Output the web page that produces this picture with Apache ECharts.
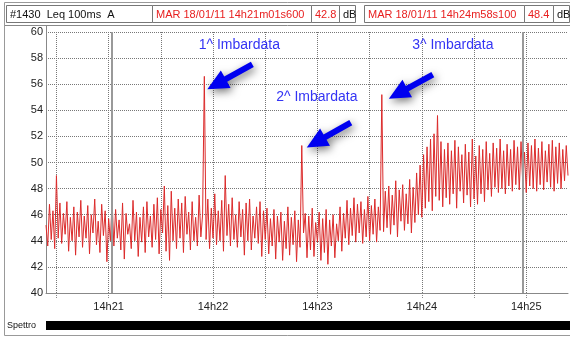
<!DOCTYPE html>
<html>
<head>
<meta charset="utf-8">
<script src="https://cdn.jsdelivr.net/npm/echarts@6/dist/echarts.min.js"></script>
<style>
html,body{margin:0;padding:0;background:#fff}
#chart{width:570px;height:337px}
</style>
</head>
<body>
<div id="chart"></div>
<script>
// first sample = 14h20m24s, one value per second
var startSec = 24;
var tickLabels = ['14h21', '14h22', '14h23', '14h24', '14h25'];
// Leq 100ms (dB)
var leq = [
  45.2, 43.6, 46.8, 44.1, 46.3, 43.4, 49.0, 44.2, 46.9, 43.8,
  46.1, 44.5, 47.0, 43.2, 45.8, 44.0, 46.6, 42.9, 46.2, 44.3,
  47.1, 43.5, 45.9, 44.2, 46.7, 43.0, 46.0, 44.6, 47.2, 43.7,
  45.5, 43.1, 46.8, 44.4, 46.3, 42.4, 45.7, 44.0, 47.0, 43.6,
  46.4, 44.2, 45.6, 43.3, 46.9, 42.6, 46.1, 44.5, 45.3, 43.4,
  47.1, 44.0, 46.2, 42.8, 45.8, 43.9, 46.6, 43.1, 47.0, 44.3,
  45.9, 43.5, 46.8, 44.1, 47.3, 43.0, 46.4, 44.6, 48.2, 43.2,
  46.7, 42.5, 47.8, 44.0, 46.5, 43.4, 47.2, 44.2, 46.9, 43.1,
  47.4, 44.5, 46.2, 43.3, 47.0, 44.0, 45.8, 43.6, 47.5, 44.3,
  46.0, 56.6, 44.1, 47.2, 43.4, 46.5, 44.2, 47.6, 43.7, 46.3,
  44.0, 47.1, 43.2, 49.0, 44.4, 46.8, 43.6, 47.3, 44.1, 46.0,
  43.5, 47.0, 44.3, 46.4, 42.9, 46.9, 44.0, 47.2, 43.3, 45.9,
  44.2, 46.6, 43.8, 47.0, 42.8, 46.3, 44.1, 46.5, 43.0, 45.7,
  43.6, 46.4, 42.6, 45.9, 43.9, 46.2, 42.5, 45.5, 43.4, 46.6,
  42.9, 45.8, 43.7, 46.3, 42.4, 45.6, 43.5, 51.3, 44.6, 46.1,
  42.7, 45.9, 43.3, 46.5, 42.8, 45.4, 43.9, 46.2, 42.5, 45.7,
  43.1, 46.4, 42.2, 45.6, 43.6, 46.0, 42.7, 45.3, 44.0, 46.6,
  43.2, 46.1, 44.2, 47.1, 43.7, 46.5, 44.4, 47.3, 43.9, 46.8,
  44.6, 47.0, 43.8, 46.4, 44.3, 47.4, 44.0, 46.7, 44.5, 47.2,
  43.9, 46.6, 44.8, 55.2, 44.7, 47.8, 45.0, 48.2, 44.5, 47.5,
  45.2, 48.6, 44.3, 47.9, 45.5, 48.3, 44.8, 47.6, 45.3, 48.7,
  44.6, 48.1, 45.4, 49.2, 46.0, 49.8, 45.8, 50.6, 46.5, 51.2,
  47.0, 51.8, 46.3, 52.2, 47.4, 53.6, 47.1, 51.6, 46.6, 51.0,
  47.3, 51.5, 46.8, 50.9, 47.6, 51.7, 46.5, 51.2, 47.8, 50.6,
  46.9, 51.4, 47.5, 50.8, 46.6, 51.8, 47.2, 50.5, 46.8, 51.3,
  47.6, 51.0, 47.0, 51.6, 47.9, 50.7, 47.4, 51.5, 48.1, 51.1,
  47.7, 51.8, 48.0, 50.9, 47.6, 51.4, 48.2, 51.0, 47.8, 51.7,
  48.3, 51.2, 47.9, 51.6, 48.4, 50.8, 47.7, 51.5, 48.2, 51.3,
  48.0, 51.8, 47.8, 51.1, 48.3, 51.6, 47.9, 50.9, 48.5, 51.4,
  48.1, 51.7, 47.8, 51.2, 48.4, 51.5, 48.0, 51.0, 48.6, 51.3,
  49.0
];
// annotated spikes (seconds after 14h20)
var spikeSec = [115, 171, 217];
var spikeNames = ['1^ Imbardata', '2^ Imbardata', '3^ Imbardata'];
// cursors (seconds after 14h20)
var cursorSec = [62, 298];

function pad(n) { return n < 10 ? '0' + n : '' + n; }
var categories = [];
for (var i = 0; i < leq.length; i++) {
    var s = startSec + i;
    categories.push('14h' + (20 + Math.floor(s / 60)) + 'm' + pad(s % 60) + 's');
}
function secOf(idx) { return startSec + idx; }

var FONT = 'Liberation Sans';
var myChart = echarts.init(document.getElementById('chart'), null, {renderer: 'canvas'});

var headerBoxes = [
    {x: 6, w: 146, text: '#1430  Leq 100ms  A', color: '#111'},
    {x: 152, w: 159, text: 'MAR 18/01/11 14h21m01s600', color: '#e82020'},
    {x: 311, w: 28, text: '42.8', color: '#e82020'},
    {x: 339, w: 16, text: 'dB', color: '#111'},
    {x: 364, w: 160, text: 'MAR 18/01/11 14h24m58s100', color: '#e82020'},
    {x: 524, w: 29, text: '48.4', color: '#e82020'},
    {x: 553, w: 16, text: 'dB', color: '#111'}
];

var graphics = [
    {type: 'rect', shape: {x: 4.5, y: 2.5, width: 570, height: 333}, style: {fill: 'none', stroke: '#999', lineWidth: 1}, z: 1},
    {type: 'line', shape: {x1: 5, y1: 25.5, x2: 570, y2: 25.5}, style: {stroke: '#888', lineWidth: 1}},
    {type: 'line', shape: {x1: 46.5, y1: 26, x2: 46.5, y2: 32}, style: {stroke: '#888', lineWidth: 1}},
    {type: 'text', x: 7, y: 326, style: {text: 'Spettro', font: '9px ' + FONT, fill: '#111', verticalAlign: 'middle'}},
    {type: 'rect', shape: {x: 46, y: 321, width: 524, height: 9}, style: {fill: '#000'}}
];
headerBoxes.forEach(function (b) {
    graphics.push({type: 'rect', shape: {x: b.x + 0.5, y: 5.5, width: b.w, height: 17}, style: {fill: '#fff', stroke: '#777', lineWidth: 1}});
    graphics.push({type: 'text', x: b.x + 4, y: 14.5, style: {text: b.text, font: '11px ' + FONT, fill: b.color, verticalAlign: 'middle'}});
});

var option = {
    backgroundColor: '#fff',
    animation: false,
    grid: {left: 46, right: 2, top: 32, bottom: 44},
    xAxis: {
        type: 'category',
        boundaryGap: false,
        data: categories,
        axisLine: {lineStyle: {color: '#888', width: 1}},
        axisTick: {
            show: true,
            length: 5,
            interval: function (idx) { return secOf(idx) % 30 === 0; },
            lineStyle: {color: '#888', type: 'dotted'}
        },
        axisLabel: {
            interval: function (idx) { return secOf(idx) % 60 === 0; },
            formatter: function (v, idx) {
                var s = secOf(idx);
                return tickLabels[Math.floor(s / 60) - 1] || '';
            },
            margin: 8,
            fontSize: 11,
            fontFamily: FONT,
            color: '#222'
        },
        splitLine: {
            show: true,
            interval: function (idx) { return secOf(idx) % 30 === 0; },
            lineStyle: {color: '#777', type: 'dotted', width: 1}
        }
    },
    yAxis: {
        type: 'value',
        min: 40,
        max: 60,
        interval: 2,
        axisLine: {show: true, lineStyle: {color: '#888', width: 1}},
        axisTick: {show: false},
        axisLabel: {margin: 3, fontSize: 11, fontFamily: FONT, color: '#222'},
        splitLine: {lineStyle: {color: '#777', type: 'dotted', width: 1}}
    },
    series: [{
        type: 'line',
        data: leq,
        showSymbol: false,
        lineStyle: {color: '#dc2b2b', width: 1},
        markLine: {
            silent: true,
            symbol: 'none',
            label: {show: false},
            lineStyle: {color: '#999', type: 'solid', width: 2},
            data: cursorSec.map(function (s) { return {xAxis: categories[s - startSec]}; })
        }
    }],
    graphic: graphics
};
myChart.setOption(option);

// arrows and labels next to the spikes
function arrow(tip, tail) {
    var dx = tip[0] - tail[0], dy = tip[1] - tail[1];
    var len = Math.sqrt(dx * dx + dy * dy);
    var ux = dx / len, uy = dy / len, nx = -uy, ny = ux;
    var L = 21, W = 10, T = 3;
    var neck = [tip[0] - ux * L, tip[1] - uy * L];
    return [
        [tail[0] + nx * T, tail[1] + ny * T],
        [neck[0] + nx * T, neck[1] + ny * T],
        [neck[0] + nx * W, neck[1] + ny * W],
        tip,
        [neck[0] - nx * W, neck[1] - ny * W],
        [neck[0] - nx * T, neck[1] - ny * T],
        [tail[0] - nx * T, tail[1] - ny * T]
    ];
}
var tipOff = [[3, 13], [5, 2], [7, 4]];
var tailOff = [[48, -12], [49, -23], [51, -20]];
var textOff = [[35, -31], [15, -48], [71, -49]];
var extra = [];
spikeSec.forEach(function (s, k) {
    var idx = s - startSec;
    var p = myChart.convertToPixel({seriesIndex: 0}, [idx, leq[idx]]);
    var tip = [p[0] + tipOff[k][0], p[1] + tipOff[k][1]];
    var tail = [p[0] + tailOff[k][0], p[1] + tailOff[k][1]];
    extra.push({
        type: 'polygon',
        shape: {points: arrow(tip, tail)},
        style: {fill: '#0000f0', shadowBlur: 8, shadowColor: 'rgba(0,0,0,0.55)', shadowOffsetX: 2, shadowOffsetY: 3},
        z: 10
    });
    extra.push({
        type: 'text',
        x: p[0] + textOff[k][0],
        y: p[1] + textOff[k][1],
        style: {text: spikeNames[k], font: '14px ' + FONT, fill: '#3434f4', align: 'center', verticalAlign: 'middle'},
        z: 10
    });
});
myChart.setOption({graphic: graphics.concat(extra)});
</script>
</body>
</html>
